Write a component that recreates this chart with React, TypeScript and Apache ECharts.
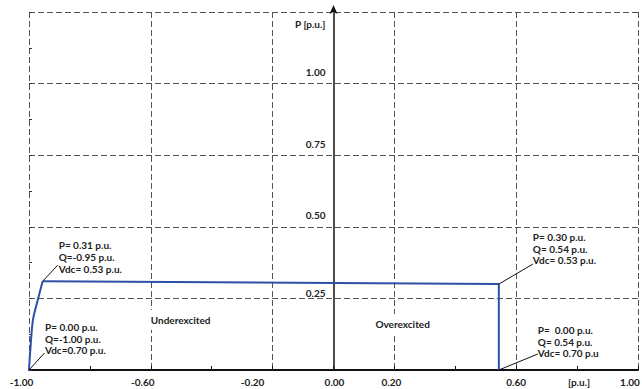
import React, { useEffect, useRef } from "react";
import * as echarts from "echarts";

// ---- data ----
const Q_VALUES = [-1, -0.995, -0.987, -0.974, -0.955, 0.543, 0.543];
const P_VALUES = [0, 0.08, 0.175, 0.233, 0.31, 0.3, 0];
const KNEE_INDEX = 4;

const X_TICK_VALUES = [-1, -0.6, -0.2, 0, 0.2, 0.6, 0.8, 1];
const X_TICK_LABELS = ["-1.00", "-0.60", "-0.20", "0.00", "0.20", "0.60", "[p.u.]", "1.00"];

const Y_TICK_VALUES = [0.25, 0.5, 0.75, 1.0];
const Y_TICK_LABELS = ["0.25", "0.50", "0.75", "1.00"];
const Y_AXIS_NAME = "P [p.u.]";

const ANNOT_Q = [-0.955, -1, 0.543, 0.543];
const ANNOT_P = [0.31, 0, 0.3, 0];
const ANNOT_TEXT = [
  ["P= 0.31 p.u.", "Q=-0.95 p.u.", "Vdc= 0.53 p.u."],
  ["P= 0.00 p.u.", "Q=-1.00 p.u.", "Vdc=0.70 p.u."],
  ["P= 0.30 p.u.", "Q= 0.54 p.u.", "Vdc= 0.53 p.u."],
  ["P=  0.00 p.u.", "Q= 0.54 p.u.", "Vdc= 0.70 p.u"],
];

const REGION_LABELS = ["Underexcited", "Overexcited"];
const REGION_Q = [-0.502, 0.227];
const REGION_P = [0.175, 0.16];

// ---- layout (pixels) ----
const GRID = { left: 29, right: 4, top: 12, bottom: 19 };
const CHART_W = 642;
const X_LABEL_SHIFT = [-7.5, -8, -20, 1, -3, 0, 2, -8];
const Y_LABEL_LINES = [1, 2, 2, 2];
const ANNOT_LAYOUT = [
  { lx: 15, ly: -16, tx: 16, ty: -36 },
  { lx: 15.5, ly: -17, tx: 16, ty: -43 },
  { lx: 34, ly: -20, tx: 34, ty: -47 },
  { lx: 39, ly: -16, tx: 39, ty: -40 },
];
const FONT = "Lato, 'Open Sans', sans-serif";
const TEXT_COLOR = "#222";

export default function App() {
  const ref = useRef<HTMLDivElement>(null);

  useEffect(() => {
    const chart = echarts.init(ref.current!, null, { renderer: "svg" });

    const xRich: Record<string, any> = {};
    X_LABEL_SHIFT.forEach((d, i) => {
      xRich["r" + i] = {
        fontFamily: FONT,
        fontWeight: "bold",
        fontSize: 10,
        color: TEXT_COLOR,
        padding: d < 0 ? [0, -2 * d, 0, 0] : [0, 0, 0, 2 * d],
      };
    });

    const dashed = { color: "#555", width: 1, type: [6, 3] as any };
    // offset the P axis so that it sits on Q = 0 (middle of symmetric -1..1 range)
    const plotW = CHART_W - GRID.left - GRID.right;
    const yAxisOffset = -plotW / 2;

    chart.setOption({
      animation: false,
      grid: { ...GRID, outerBoundsMode: "none", containLabel: false },
      xAxis: [
        {
          type: "value",
          min: -1,
          max: 1,
          interval: 0.2,
          position: "bottom",
          axisLine: { onZero: false, lineStyle: { color: "#111", width: 2 } },
          axisTick: { inside: true, length: 4, lineStyle: { color: "#111", width: 1 } },
          splitLine: { show: false },
          axisLabel: {
            showMinLabel: true,
            showMaxLabel: true,
            hideOverlap: false,
            margin: 7,
            fontFamily: FONT,
            fontWeight: "bold",
            fontSize: 10,
            color: TEXT_COLOR,
            formatter: (v: number) => {
              const i = X_TICK_VALUES.findIndex((t) => Math.abs(t - v) < 1e-6);
              return i < 0 ? "" : `{r${i}|${X_TICK_LABELS[i]}}`;
            },
            rich: xRich,
          },
        },
        {
          type: "value",
          min: -1,
          max: 1,
          interval: 0.4,
          position: "bottom",
          axisLine: { show: false, onZero: false },
          axisTick: { show: false },
          axisLabel: { show: false },
          splitLine: { show: true, lineStyle: dashed },
        },
      ],
      yAxis: [
        {
          type: "value",
          min: 0,
          max: 1.25,
          interval: 0.25,
          position: "left",
          offset: yAxisOffset,
          axisLine: {
            onZero: false,
            symbol: ["none", "arrow"],
            symbolSize: [6, 9],
            symbolOffset: [0, 7],
            lineStyle: { color: "#111", width: 1.5 },
          },
          axisTick: { show: false },
          splitLine: { show: true, lineStyle: dashed },
          axisLabel: {
            showMinLabel: true,
            showMaxLabel: true,
            margin: 8,
            fontFamily: FONT,
            fontWeight: "bold",
            fontSize: 10,
            lineHeight: 11.5,
            color: TEXT_COLOR,
            formatter: (v: number) => {
              if (Math.abs(v - 1.25) < 1e-6) return "\n\n" + Y_AXIS_NAME;
              const i = Y_TICK_VALUES.findIndex((t) => Math.abs(t - v) < 1e-6);
              if (i < 0) return "";
              return Y_TICK_LABELS[i] + "\n".repeat(Y_LABEL_LINES[i]);
            },
          },
        },
        {
          type: "value",
          min: 0,
          max: 1.25,
          interval: 0.125,
          position: "left",
          offset: 0,
          axisLine: { show: false, onZero: false },
          axisTick: { show: true, inside: true, length: 3, lineStyle: { color: "#333" } },
          axisLabel: { show: false },
          splitLine: { show: false },
        },
      ],
      series: [
        {
          type: "line",
          xAxisIndex: 0,
          yAxisIndex: 0,
          data: Q_VALUES.slice(0, KNEE_INDEX + 1).map((q, i) => [q, P_VALUES[i]]),
          showSymbol: false,
          symbol: "none",
          smooth: 0.4,
          lineStyle: { color: "#2f50a8", width: 2 },
          z: 5,
        },
        {
          type: "line",
          xAxisIndex: 0,
          yAxisIndex: 0,
          data: Q_VALUES.slice(KNEE_INDEX).map((q, i) => [q, P_VALUES[KNEE_INDEX + i]]),
          showSymbol: false,
          symbol: "none",
          lineStyle: { color: "#2f50a8", width: 2 },
          z: 5,
        },
      ],
    });

    const graphic: any[] = [];
    ANNOT_Q.forEach((q, i) => {
      const [px, py] = chart.convertToPixel({ xAxisIndex: 0, yAxisIndex: 0 }, [q, ANNOT_P[i]]) as number[];
      const L = ANNOT_LAYOUT[i];
      graphic.push({
        type: "line",
        shape: { x1: px, y1: py, x2: px + L.lx, y2: py + L.ly },
        style: { stroke: "#111", lineWidth: 1 },
        z: 10,
      });
      graphic.push({
        type: "text",
        x: px + L.tx,
        y: py + L.ty - 5.85,
        style: {
          text: ANNOT_TEXT[i].join("\n"),
          fontFamily: FONT,
          fontWeight: "bold",
          fontSize: 10,
          lineHeight: 11.7,
          fill: TEXT_COLOR,
          align: "left",
          verticalAlign: "top",
        },
        z: 10,
      });
    });
    REGION_LABELS.forEach((t, i) => {
      const [px, py] = chart.convertToPixel({ xAxisIndex: 0, yAxisIndex: 0 }, [REGION_Q[i], REGION_P[i]]) as number[];
      graphic.push({
        type: "text",
        x: px,
        y: py,
        style: {
          text: t,
          fontFamily: FONT,
          fontWeight: "bold",
          fontSize: 10,
          fill: TEXT_COLOR,
          align: "center",
          verticalAlign: "middle",
          backgroundColor: "#fff",
          padding: [5, 2],
        },
        z: 10,
      });
    });
    chart.setOption({ graphic });

    return () => chart.dispose();
  }, []);

  return (
    <div
      ref={ref}
      style={{ position: "absolute", left: 0, top: 0, width: 642, height: 389 }}
    />
  );
}
